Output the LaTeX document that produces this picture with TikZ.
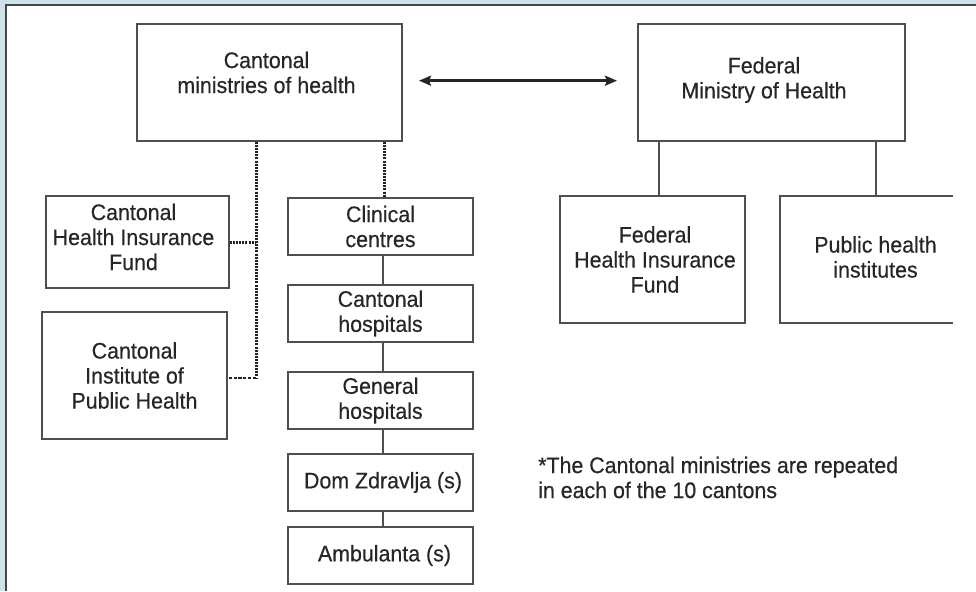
\documentclass[tikz,border=0pt]{standalone}
\usepackage{fontspec}
\setmainfont{Liberation Sans}[FakeStretch=0.95,FakeBold=0.4]
\usetikzlibrary{arrows.meta}
\definecolor{bgblue}{HTML}{CFE2EA}
\definecolor{framegray}{HTML}{454545}
\definecolor{dotgray}{HTML}{222222}
\definecolor{boxline}{HTML}{4F4F4F}
\definecolor{ink}{HTML}{262626}
\newcommand\diagfont{\fontsize{22.5}{25}\selectfont}
\begin{document}
\begin{tikzpicture}[x=1pt,y=-1pt,
  box/.style={draw=boxline,line width=1.8pt,inner sep=0pt,align=center,text=ink,font=\diagfont},
  shapeonly/.style={inner sep=0pt},
  txt/.style={inner sep=0pt,align=center,text=ink,font=\diagfont},
  solidline/.style={draw=boxline,line width=1.8pt},
  dotline/.style={draw=dotgray,line width=3pt,dash pattern=on 2pt off 1.1pt},
  dashline/.style={draw=dotgray,line width=2pt,dash pattern=on 3.2pt off 1.6pt},
  biarrow/.style={draw=black!85,line width=2.6pt,{Stealth[length=12pt,width=10pt,inset=2pt]}-{Stealth[length=12pt,width=10pt,inset=2pt]}}]
\useasboundingbox (0,0) rectangle (976,591);
% frame
\fill[bgblue] (0,0) rectangle (976,591);
\fill[white] (5.7,5) rectangle (976,591);
\draw[framegray,line width=2pt] (5.7,591) -- (5.7,5) -- (976,5);

% top boxes
\node[box,minimum width=265pt,minimum height=117pt] (cm) at (269.5,82.5) {};
\node[txt] (cmt) at (266.5,72.5) {Cantonal\\ministries of health};
\node[box,minimum width=267pt,minimum height=117pt] (fm) at (771.5,82.5) {};
\node[txt] (fmt) at (764,80) {Federal\\Ministry of Health};

% left column
\node[box,minimum width=183pt,minimum height=92pt] (chif) at (137.5,242) {};
\node[txt] (chift) at (133.5,237) {Cantonal\\Health Insurance\\Fund};
\node[box,minimum width=185pt,minimum height=127pt] (cip) at (134.5,375.5) {Cantonal\\Institute of\\Public Health};

% middle column
\node[box,minimum width=185pt,minimum height=57pt] (cc) at (380.5,226.5) {Clinical\\centres};
\node[box,minimum width=185pt,minimum height=57pt] (ch) at (380.5,313.5) {Cantonal\\hospitals};
\node[box,minimum width=185pt,minimum height=57pt] (gh) at (380.5,400.5) {General\\hospitals};
\node[box,minimum width=185pt,minimum height=57pt] (dz) at (380.5,482.5) {\hspace*{5pt}Dom Zdravlja (s)};
\node[box,minimum width=185pt,minimum height=57pt] (am) at (380.5,555.5) {\hspace*{8pt}Ambulanta (s)};

% federal children
\node[box,minimum width=185pt,minimum height=127pt] (fhif) at (652.5,259.5) {\hspace*{5pt}Federal\\\hspace*{5pt}Health Insurance\\\hspace*{5pt}Fund};
\node[shapeonly,minimum width=173pt,minimum height=127pt] (ph) at (866.5,259.5) {};
\node[txt] (pht) at (875.5,257) {Public health\\institutes};
\draw[solidline] (ph.north east) -- (ph.north west) -- (ph.south west) -- (ph.south east);

% note
\node[txt,align=left,anchor=west] (note) at (538,477.5) {*The Cantonal ministries are repeated\\in each of the 10 cantons};

% connectors
\coordinate (aL) at (419,80.7);
\coordinate (aR) at (617,80.7);
\draw[biarrow] (aL) -- (aR);

\coordinate (dA) at (256,0);
\coordinate (dB) at (384,0);
\coordinate (dJ) at (256,378);
\coordinate (vM) at (383,0);
\coordinate (vF) at (659,0);
\coordinate (vP) at (876,0);

\draw[dotline] (cm.south -| dA) -- (dJ);
\draw[dashline] (dJ) -- (dJ -| cip.east);
\draw[dotline] (chif.east) -- (chif.east -| dA);
\draw[dotline] (cm.south -| dB) -- (cc.north -| dB);

\draw[solidline] (cc.south -| vM) -- (ch.north -| vM);
\draw[solidline] (ch.south -| vM) -- (gh.north -| vM);
\draw[solidline] (gh.south -| vM) -- (dz.north -| vM);
\draw[solidline] (dz.south -| vM) -- (am.north -| vM);

\draw[solidline] (fm.south -| vF) -- (fhif.north -| vF);
\draw[solidline] (fm.south -| vP) -- (ph.north -| vP);
\end{tikzpicture}
\end{document}
